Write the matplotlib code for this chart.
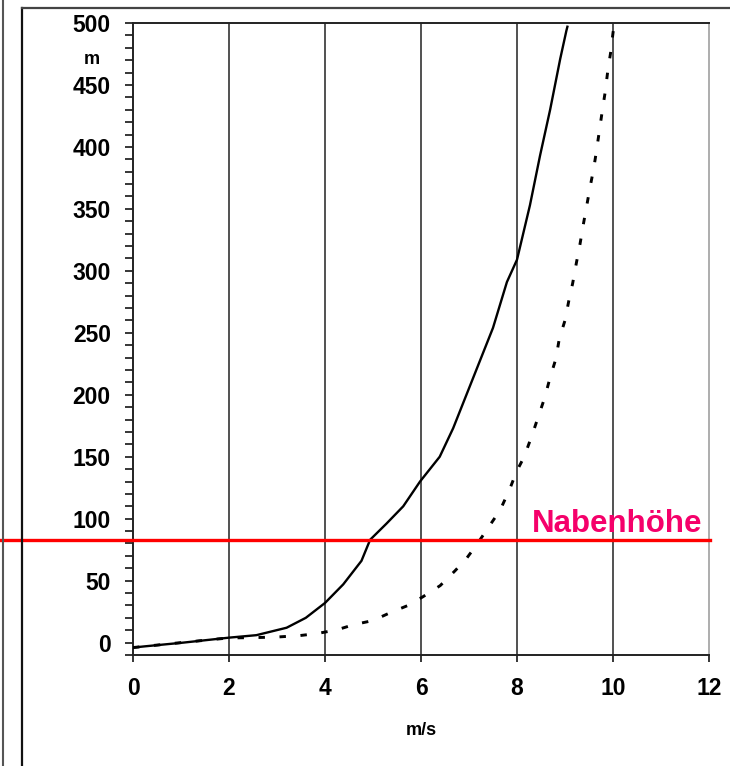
import matplotlib
matplotlib.use("Agg")
import matplotlib.pyplot as plt
from matplotlib.lines import Line2D
from matplotlib.ticker import MultipleLocator
import matplotlib.transforms as mtransforms

plt.rcParams['font.family'] = ['Liberation Sans', 'DejaVu Sans']
plt.rcParams['font.weight'] = 'bold'

# solid curve (m/s vs height m)
solid_v = [0.0, 0.25, 1.05, 2.0, 2.57, 3.2, 3.6, 4.0, 4.38, 4.76, 4.94, 5.28, 5.63,
           5.98, 6.39, 6.67, 7.08, 7.5, 7.79, 8.0, 8.27, 8.48, 8.69, 8.9, 9.03, 9.05]
solid_h = [-4, -3, 0, 4, 6, 12, 20, 32, 47, 66, 83, 96, 110,
           130, 150, 173, 213, 254, 291, 309, 353, 393, 430, 471, 494, 497]

# dashed curve
dash_v = [0.0, 1.0, 2.0, 2.5, 3.0, 3.48, 3.83, 4.24, 4.6, 5.0, 5.35, 5.73, 6.04, 6.4,
          6.71, 6.95, 7.16, 7.44, 7.65, 7.85, 7.99, 8.15, 8.31, 8.45, 8.58, 8.69, 8.81,
          8.88, 9.0, 9.08, 9.16, 9.24, 9.31, 9.38, 9.45, 9.52, 9.6, 9.66, 9.72, 9.78,
          9.84, 9.89, 9.95, 10.0, 10.02]
dash_h = [-4, 0, 3.8, 4, 4.5, 5.7, 7.3, 10.2, 14.5, 17.8, 24, 30, 37, 46,
          58, 68, 79, 95, 107, 124, 138, 150, 167, 183, 198, 214, 229,
          245, 260, 276, 290, 307, 321, 337, 352, 367, 383, 398, 414, 430,
          445, 461, 476, 492, 497]

nabenhoehe = 82.5
x_ticks = [0, 2, 4, 6, 8, 10, 12]
y_ticks = [0, 50, 100, 150, 200, 250, 300, 350, 400, 450, 500]

fig = plt.figure(figsize=(7.3, 7.66), dpi=100)
ax = fig.add_axes([133 / 730, 1 - 655 / 766, 576 / 730, 632 / 766])

ax.set_xlim(0, 12)
ax.set_ylim(-10, 500)

# vertical grid lines
for v in x_ticks[1:-1]:
    ax.axvline(v, color='#222222', lw=1.1, zorder=1)

ax.plot(solid_v, solid_h, color='black', lw=1.7, zorder=3)
ax.plot(dash_v, dash_h, color='black', lw=2.1, linestyle=(0, (2.2, 5)), zorder=3)

# hub height line, running out to the left edge of the figure
trans = mtransforms.blended_transform_factory(fig.transFigure, ax.transData)
ax.plot([0, 710 / 730], [nabenhoehe, nabenhoehe], color='#FF0000', lw=2.4,
        transform=trans, clip_on=False, zorder=4)
ax.text(8.3, nabenhoehe + 6.5, 'Nabenhöhe', color='#F5006A', fontsize=22.5,
        fontweight='bold', ha='left', va='baseline', zorder=5)

ax.set_xticks(x_ticks)
ax.set_yticks(y_ticks)
ax.yaxis.set_minor_locator(MultipleLocator(10))
ax.tick_params(axis='y', which='both', direction='out', length=6, width=1.1,
               pad=10, labelsize=16.5)
ax.tick_params(axis='x', which='major', direction='out', length=5, width=1.1,
               pad=11, labelsize=16.5)
ax.set_xlabel('m/s', fontsize=13, fontweight='bold', labelpad=16)

for side in ['left', 'bottom', 'top']:
    ax.spines[side].set_color('#222222')
    ax.spines[side].set_linewidth(1.4)
ax.spines['right'].set_color('#A0A0A0')
ax.spines['right'].set_linewidth(1.2)

fig.text(92 / 730, 1 - 59 / 766, 'm', fontsize=13, fontweight='bold',
         ha='center', va='center')

# outer frame lines of the original page
fig.add_artist(Line2D([3 / 730, 3 / 730], [0, 1], color='#555555', lw=1.5))
fig.add_artist(Line2D([22 / 730, 22 / 730], [0, 1 - 8 / 766], color='#111111', lw=1.6))
fig.add_artist(Line2D([22 / 730, 1], [1 - 8 / 766, 1 - 8 / 766], color='#444444', lw=1.6))

fig.savefig('out.png', dpi=100)
